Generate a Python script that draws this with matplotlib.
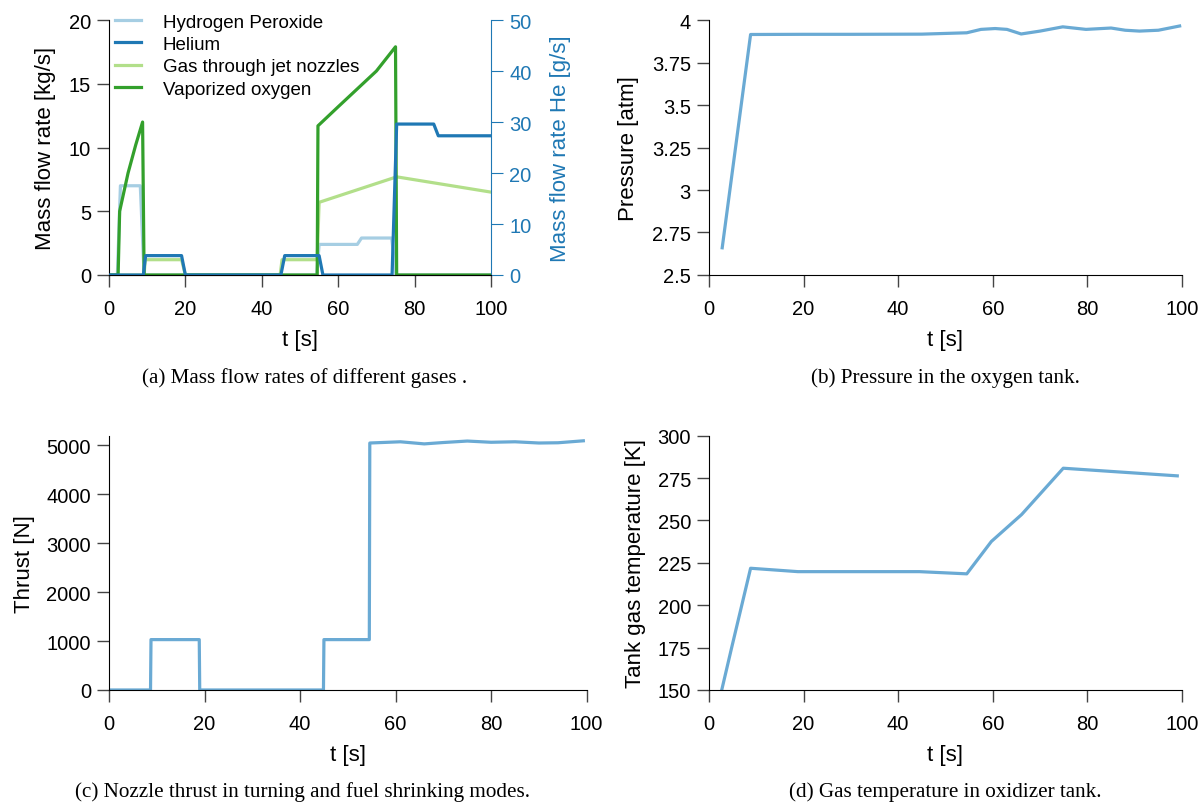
import numpy as np
import matplotlib.pyplot as plt
from matplotlib.ticker import FuncFormatter

plt.rcParams['font.family'] = ['Liberation Sans', 'DejaVu Sans']

# (a) mass flow rates, left axis kg/s
t_h2o2 = [0, 2.2, 3.0, 8.2, 9.2, 54.4, 55.0, 65.0, 66.1, 74.0, 75.1, 100]
h2o2 = [0, 0, 7.0, 7.0, 0, 0, 2.4, 2.4, 2.9, 2.9, 0, 0]

t_jet = [0, 9.2, 9.5, 19.0, 20.0, 44.8, 45.3, 54.5, 55.0, 75.3, 100]
jet = [0, 0, 1.2, 1.2, 0, 0, 1.2, 1.2, 5.7, 7.7, 6.5]

t_vap = [0, 2.4, 2.8, 5.0, 7.0, 8.8, 9.2, 54.5, 54.7, 60, 65, 70, 75.0, 75.3, 100]
vap = [0, 0, 5.0, 8.0, 10.2, 12.0, 0, 0, 11.7, 13.2, 14.6, 16.0, 17.9, 0, 0]

# helium, right axis g/s
t_he = [0, 9.0, 9.6, 19.0, 20.0, 45.0, 46.0, 55.0, 56.0, 74.1, 75.3, 85.0, 86.2, 100]
he = [0, 0, 3.8, 3.8, 0, 0, 3.8, 3.8, 0, 0, 29.6, 29.6, 27.3, 27.3]

# (b) pressure in oxygen tank
t_p = [2.8, 8.8, 20, 30, 45, 54.5, 57.5, 60.5, 63, 66, 70, 74.8, 79.7, 85, 88, 91, 95, 99.5]
pressure = [2.66, 3.915, 3.916, 3.916, 3.917, 3.925, 3.945, 3.95, 3.945, 3.918, 3.935,
            3.96, 3.945, 3.953, 3.94, 3.935, 3.94, 3.965]

# (c) nozzle thrust
t_thr = [0, 8.7, 8.8, 18.9, 19.0, 44.9, 45.0, 54.5, 54.6, 61, 66, 70, 75, 80, 85, 90, 94, 99.3]
thrust = [0, 0, 1030, 1030, 0, 0, 1030, 1030, 5050, 5075, 5032, 5060, 5090, 5065, 5075,
          5050, 5055, 5095]

# (d) tank gas temperature
t_temp = [2.7, 4.8, 8.8, 18.8, 44.5, 54.5, 59.7, 66.1, 74.9, 99]
temp = [150, 175, 221.8, 219.8, 219.8, 218.5, 237.6, 253.5, 280.8, 276.3]

c_h2o2, c_he, c_jet, c_vap = '#a6cee3', '#1f78b4', '#b2df8a', '#33a02c'
c_single = '#6aaad4'
lw = 2.3
tick_fs, label_fs = 14.5, 16

fig = plt.figure(figsize=(12, 8.03), dpi=100)

def style(ax):
    ax.spines['top'].set_visible(False)
    ax.spines['right'].set_visible(False)
    ax.tick_params(direction='out', length=8.5, width=1, color='#444444',
                   labelsize=tick_fs, pad=4.5)
    ax.tick_params(axis='x', pad=8.5)
    ax.set_xlim(0, 100)
    ax.set_xticks([0, 20, 40, 60, 80, 100])
    ax.set_xlabel('t [s]', fontsize=label_fs, labelpad=8.5)

fmt = FuncFormatter(lambda v, p: '%g' % v)

# (a)
ax1 = fig.add_axes([0.0908, 0.6563, 0.3184, 0.3175])
style(ax1)
l1, = ax1.plot(t_h2o2, h2o2, color=c_h2o2, lw=lw, label='Hydrogen Peroxide')
l3, = ax1.plot(t_jet, jet, color=c_jet, lw=lw, label='Gas through jet nozzles')
l4, = ax1.plot(t_vap, vap, color=c_vap, lw=lw, label='Vaporized oxygen')
ax1.set_ylim(0, 20)
ax1.set_yticks([0, 5, 10, 15, 20])
ax1.set_ylabel('Mass flow rate [kg/s]', fontsize=label_fs, labelpad=9)

ax2 = ax1.twinx()
ax2.spines['top'].set_visible(False)
ax2.spines['left'].set_visible(False)
ax2.spines['right'].set_color(c_he)
l2, = ax2.plot(t_he, he, color=c_he, lw=lw, label='Helium')
ax2.set_ylim(0, 50)
ax2.set_yticks([0, 10, 20, 30, 40, 50])
ax2.tick_params(axis='y', colors=c_he, direction='out', length=8.5,
                labelsize=tick_fs, pad=4.5)
ax2.set_ylabel('Mass flow rate He [g/s]', fontsize=label_fs, color=c_he, labelpad=13)

ax2.legend(handles=[l1, l2, l3, l4], loc='upper left', bbox_to_anchor=(0.0955, 0.982),
           bbox_transform=fig.transFigure, frameon=False, fontsize=13.5,
           handlelength=1.39, handletextpad=1.17, labelspacing=0.28,
           borderpad=0, borderaxespad=0)

# (b)
ax = fig.add_axes([0.5908, 0.6563, 0.3942, 0.3175])
style(ax)
ax.plot(t_p, pressure, color=c_single, lw=lw)
ax.set_ylim(2.5, 4)
ax.set_yticks([2.5, 2.75, 3, 3.25, 3.5, 3.75, 4])
ax.yaxis.set_major_formatter(fmt)
ax.set_ylabel('Pressure [atm]', fontsize=label_fs, labelpad=9)

# (c)
ax = fig.add_axes([0.0908, 0.1395, 0.3981, 0.3167])
style(ax)
ax.plot(t_thr, thrust, color=c_single, lw=lw)
ax.set_ylim(0, 5200)
ax.set_yticks([0, 1000, 2000, 3000, 4000, 5000])
ax.set_ylabel('Thrust [N]', fontsize=label_fs, labelpad=8)

# (d)
ax = fig.add_axes([0.5908, 0.1395, 0.3942, 0.3167])
style(ax)
ax.plot(t_temp, temp, color=c_single, lw=lw)
ax.set_ylim(150, 300)
ax.set_yticks([150, 175, 200, 225, 250, 275, 300])
ax.set_ylabel('Tank gas temperature [K]', fontsize=label_fs, labelpad=8)

cap = dict(ha='center', va='center', fontsize=15.2, family='Liberation Serif')
fig.text(0.254, 1 - 378 / 803, '(a) Mass flow rates of different gases .', **cap)
fig.text(0.788, 1 - 378 / 803, '(b) Pressure in the oxygen tank.', **cap)
fig.text(0.252, 1 - 792 / 803, '(c) Nozzle thrust in turning and fuel shrinking modes.', **cap)
fig.text(0.788, 1 - 792 / 803, '(d) Gas temperature in oxidizer tank.', **cap)

fig.savefig('out.png', dpi=100)
